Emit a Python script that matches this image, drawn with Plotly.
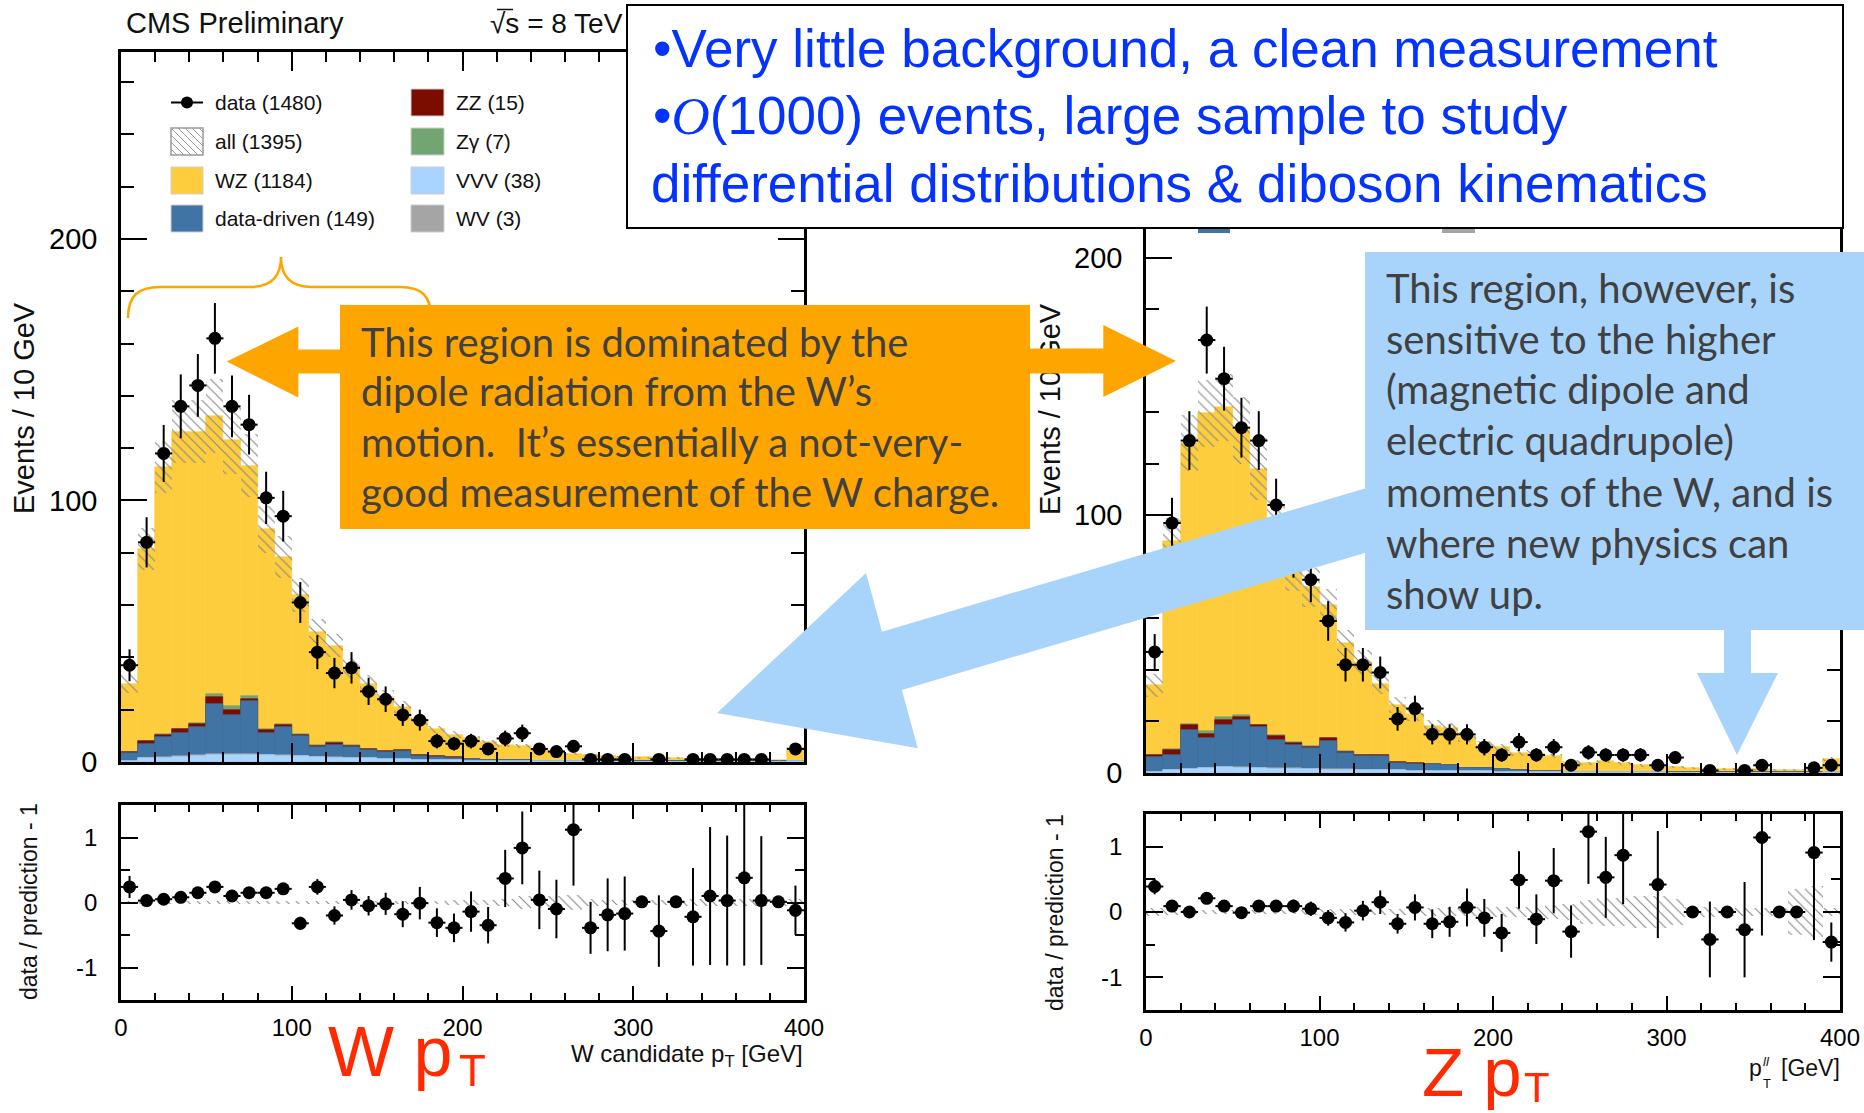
import numpy as np
import plotly.graph_objects as go

W, H = 1864, 1113


def X(p):
    return p / W


def Y(p):
    return 1 - p / H


# 10 GeV bins, 0-400 GeV
centres = np.arange(5, 400, 10)

# ---------------- W candidate pT ----------------
w_data = [37, 84, 118, 136, 144, 162, 136, 129, 101, 94,
          61, 42, 34, 36, 27, 24, 18, 16, 8, 7,
          8, 5, 9, 11, 5, 4, 6, 1, 1, 1,
          None, 1, None, 1, 1, 1, 1, 1, None, 5]
w_data_err = [6.1, 9.6, 10.9, 12.2, 12.0, 13.5, 11.8, 11.4, 10.0, 9.7,
              7.8, 6.5, 5.8, 6.0, 5.2, 4.9, 4.2, 4.0, 2.8, 2.6,
              2.8, 2.2, 3.0, 3.3, 2.2, 2.0, 2.4, 1.0, 1.0, 1.0,
              0, 1.0, 0, 1.0, 1.0, 1.0, 1.0, 1.0, 0, 2.2]
w_pred = [30.0, 81.3, 112.7, 126.3, 126.3, 132.3, 123.1, 113.3, 89.0, 78.3,
          63.9, 49.8, 44.5, 36.0, 30.0, 25.0, 21.0, 16.0, 12.5, 10.5,
          9.0, 7.5, 6.5, 6.0, 4.8, 4.3, 3.0, 2.5, 2.2, 2.0,
          1.8, 1.8, 1.5, 1.2, 1.0, 0.9, 0.8, 0.7, 0.6, 5.2]
w_pred_err = [3.5, 8.0, 10.0, 12.0, 12.0, 14.0, 13.0, 12.0, 9.0, 8.0,
              6.5, 5.0, 4.5, 3.8, 3.2, 2.6, 2.2, 1.7, 1.4, 1.2,
              1.0, 0.9, 0.8, 0.8, 0.6, 0.6, 0.5, 0.4, 0.4, 0.4,
              0.3, 0.3, 0.3, 0.3, 0.3, 0.3, 0.3, 0.3, 0.3, 0.8]
w_vvv = [0.5, 1.4, 1.7, 2.0, 2.2, 2.7, 2.7, 2.7, 2.5, 2.4,
         2.2, 1.9, 1.7, 1.5, 1.4, 1.2, 1.0, 0.9, 0.7, 0.7,
         0.5, 0.4, 0.4, 0.3, 0.2, 0.2, 0.2, 0.2, 0.1, 0.1,
         0.1, 0.1, 0.1, 0.1, 0.1, 0.1, 0.1, 0.1, 0.1, 0.2]
w_wv = [0.0, 0.1, 0.2, 0.2, 0.3, 0.3, 0.3, 0.3, 0.3, 0.2,
        0.2, 0.2, 0.1, 0.1, 0.0, 0.0, 0.0, 0.0, 0.0, 0.0,
        0.0, 0.0, 0.0, 0.0, 0.0, 0.0, 0.0, 0.0, 0.0, 0.0,
        0.0, 0.0, 0.0, 0.0, 0.0, 0.0, 0.0, 0.0, 0.0, 0.0]
w_dd = [2.8, 5.4, 7.5, 9.0, 10.8, 19.2, 15.0, 20.5, 8.2, 10.7,
        7.5, 3.5, 4.6, 4.3, 3.1, 2.8, 3.2, 1.4, 1.3, 1.0,
        0.7, 0.5, 0.3, 0.3, 0.2, 0.1, 0.1, 0.1, 0.1, 0.1,
        0.1, 0.1, 0.1, 0.1, 0.1, 0.1, 0.1, 0.1, 0.1, 0.3]
w_zz = [0.5, 1.0, 1.0, 1.3, 1.3, 2.8, 2.0, 0.6, 1.3, 0.9,
        0.4, 0.6, 0.9, 0.3, 0.3, 0.2, 0.2, 0.4, 0.2, 0.1,
        0.1, 0.0, 0.0, 0.0, 0.0, 0.0, 0.0, 0.0, 0.0, 0.0,
        0.0, 0.0, 0.0, 0.0, 0.0, 0.0, 0.0, 0.0, 0.0, 0.0]
w_zg = [0.0, 0.2, 0.2, 0.2, 0.3, 1.0, 1.5, 1.2, 0.3, 0.3,
        0.5, 0.2, 0.2, 0.2, 0.1, 0.1, 0.0, 0.0, 0.0, 0.0,
        0.0, 0.0, 0.0, 0.0, 0.0, 0.0, 0.0, 0.0, 0.0, 0.0,
        0.0, 0.0, 0.0, 0.0, 0.0, 0.0, 0.0, 0.0, 0.0, 0.0]
w_ratio = [0.24, 0.03, 0.05, 0.08, 0.15, 0.24, 0.10, 0.15, 0.15, 0.21,
           -0.32, 0.24, -0.20, 0.04, -0.05, -0.02, -0.18, -0.01, -0.31, -0.39,
           -0.14, -0.35, 0.37, 0.84, 0.04, -0.10, 1.12, -0.39, -0.19, -0.17,
           0.01, -0.44, 0.01, -0.22, 0.10, 0.03, 0.38, 0.03, 0.01, -0.12]
w_ratio_err = [0.17, 0.08, 0.07, 0.07, 0.07, 0.07, 0.07, 0.08, 0.09, 0.09,
               0.10, 0.12, 0.14, 0.15, 0.15, 0.17, 0.20, 0.25, 0.22, 0.22,
               0.31, 0.28, 0.44, 0.56, 0.45, 0.45, 0.86, 0.40, 0.56, 0.57,
               0.0, 0.55, 0.0, 0.75, 1.06, 1.00, 1.35, 0.99, 0.0, 0.38]
w_ratio_band = [0.03, 0.02, 0.02, 0.02, 0.02, 0.02, 0.02, 0.02, 0.02, 0.02,
                0.02, 0.02, 0.03, 0.03, 0.03, 0.03, 0.03, 0.03, 0.03, 0.04,
                0.04, 0.04, 0.06, 0.10, 0.08, 0.10, 0.12, 0.06, 0.04, 0.04,
                0.04, 0.04, 0.04, 0.05, 0.05, 0.05, 0.05, 0.05, 0.05, 0.05]

# ---------------- Z (dilepton) pT ----------------
z_data = [47, 97, 129, 168, 153, 134, 129, 104, 85, 75,
          59, 42, 42, 39, 21, 25, 15, 15, 15, 10,
          7, 12, 7, 10, 3, 8, 7, 7, 7, 3,
          6, None, 1, None, 1, 3, None, None, 2, 3]
z_data_err = [6.9, 9.8, 11.4, 13.0, 12.4, 11.6, 11.4, 10.2, 9.2, 8.7,
              7.7, 6.5, 6.5, 6.2, 4.6, 5.0, 3.9, 3.9, 3.9, 3.2,
              2.6, 3.5, 2.6, 3.2, 1.7, 2.8, 2.6, 2.6, 2.6, 1.7,
              2.4, 0, 1.0, 0, 1.0, 1.7, 0, 0, 1.4, 1.7]
z_pred = [34.0, 90.0, 128.0, 139.6, 142.0, 133.0, 118.0, 96.0, 79.0, 72.0,
          65.0, 50.3, 43.2, 34.4, 26.4, 23.0, 18.3, 17.3, 14.0, 11.0,
          10.0, 7.8, 7.5, 6.6, 4.3, 3.8, 4.5, 3.7, 3.0, 2.2,
          2.2, 2.0, 1.7, 1.6, 1.4, 1.4, 1.2, 1.1, 1.0, 5.6]
z_pred_err = [4.5, 9.0, 11.0, 13.0, 13.0, 13.0, 12.0, 10.0, 8.5, 7.5,
              6.5, 5.2, 4.6, 3.8, 3.2, 2.8, 2.3, 2.1, 1.8, 1.5,
              1.3, 1.1, 1.0, 0.9, 0.7, 0.6, 0.6, 0.5, 0.5, 0.4,
              0.4, 0.4, 0.4, 0.3, 0.3, 0.3, 0.3, 0.3, 0.3, 0.8]
z_vvv = [0.5, 1.0, 1.5, 1.8, 2.2, 2.0, 1.8, 1.6, 1.5, 1.4,
         1.3, 1.2, 1.1, 1.0, 1.0, 0.9, 0.9, 0.8, 0.7, 0.6,
         0.5, 0.4, 0.4, 0.3, 0.3, 0.2, 0.2, 0.2, 0.2, 0.2,
         0.1, 0.1, 0.1, 0.1, 0.1, 0.1, 0.1, 0.1, 0.1, 0.3]
z_wv = [0.0, 0.1, 0.2, 0.2, 0.3, 0.3, 0.3, 0.3, 0.3, 0.2,
        0.2, 0.2, 0.1, 0.1, 0.0, 0.0, 0.0, 0.0, 0.0, 0.0,
        0.0, 0.0, 0.0, 0.0, 0.0, 0.0, 0.0, 0.0, 0.0, 0.0,
        0.0, 0.0, 0.0, 0.0, 0.0, 0.0, 0.0, 0.0, 0.0, 0.0]
z_dd = [5.6, 6.0, 14.8, 11.6, 16.1, 18.1, 15.8, 11.1, 9.2, 8.1,
        11.1, 6.4, 5.3, 5.4, 3.0, 2.6, 2.6, 2.2, 1.3, 1.4,
        1.0, 0.6, 0.4, 0.3, 0.1, 0.1, 0.1, 0.1, 0.1, 0.1,
        0.1, 0.1, 0.1, 0.1, 0.1, 0.1, 0.1, 0.1, 0.1, 0.2]
z_zz = [0.7, 2.0, 2.3, 1.6, 1.8, 1.4, 0.6, 1.3, 0.6, 0.5,
        0.8, 0.4, 0.3, 0.3, 0.2, 0.5, 0.1, 0.1, 0.1, 0.1,
        0.0, 0.0, 0.0, 0.0, 0.0, 0.0, 0.0, 0.0, 0.0, 0.0,
        0.0, 0.0, 0.0, 0.0, 0.0, 0.0, 0.0, 0.0, 0.0, 0.0]
z_zg = [0.0, 0.2, 0.3, 1.0, 1.3, 0.6, 0.2, 0.3, 0.4, 0.3,
        0.3, 0.2, 0.1, 0.1, 0.0, 0.0, 0.0, 0.0, 0.0, 0.0,
        0.0, 0.0, 0.0, 0.0, 0.0, 0.0, 0.0, 0.0, 0.0, 0.0,
        0.0, 0.0, 0.0, 0.0, 0.0, 0.0, 0.0, 0.0, 0.0, 0.0]
z_ratio = [0.39, 0.09, 0.00, 0.21, 0.09, -0.01, 0.09, 0.09, 0.09, 0.05,
           -0.09, -0.16, 0.02, 0.15, -0.18, 0.07, -0.18, -0.15, 0.07, -0.09,
           -0.32, 0.49, -0.11, 0.48, -0.30, 1.23, 0.53, 0.87, None, 0.42,
           None, 0.00, -0.42, 0.00, -0.27, 1.14, 0.00, 0.00, 0.91, -0.46]
z_ratio_err = [0.12, 0.08, 0.08, 0.08, 0.08, 0.08, 0.08, 0.09, 0.10, 0.11,
               0.12, 0.14, 0.15, 0.18, 0.15, 0.20, 0.22, 0.23, 0.29, 0.29,
               0.29, 0.44, 0.38, 0.50, 0.40, 0.80, 0.62, 0.75, 0.0, 0.82,
               0.0, 0.0, 0.58, 0.0, 0.73, 1.50, 0.0, 0.0, 1.34, 0.30]
z_ratio_band = [0.06, 0.04, 0.03, 0.03, 0.03, 0.03, 0.03, 0.03, 0.03, 0.04,
                0.04, 0.04, 0.05, 0.05, 0.05, 0.05, 0.06, 0.06, 0.06, 0.07,
                0.07, 0.08, 0.08, 0.10, 0.12, 0.18, 0.22, 0.22, 0.24, 0.24,
                0.20, 0.08, 0.08, 0.06, 0.06, 0.06, 0.06, 0.35, 0.40, 0.06]

legend_entries = [("data (1480)", None), ("all (1395)", "hatch"),
                  ("WZ (1184)", "#FDCD3D"), ("data-driven (149)", "#3F74A5"),
                  ("ZZ (15)", "#7A0C00"), ("Z\u03b3 (7)", "#73A573"),
                  ("VVV (38)", "#A8D4FF"), ("WV (3)", "#A5A5A5")]

COL_WZ, COL_DD, COL_ZZ, COL_ZG, COL_VVV, COL_WV = ("#FDCD3D", "#3F74A5", "#7A0C00",
                                                   "#73A573", "#A8D4FF", "#A5A5A5")
COL_HATCH = "#8A8A8A"
ORANGE = "#FFA500"
SKY = "#A8D4FB"
SLIDE_GREY = "#404040"
RED = "#FF2A00"
BLUE_TXT = "#0433FF"
ROOT_FONT = "Liberation Sans"
BODY_FONT = "Lato"

fig = go.Figure()


def add_stack(xa, ya, pred, err, vvv, wv, dd, zz, zg, data, data_err):
    c1 = np.asarray(vvv)
    c2 = c1 + np.asarray(wv)
    c3 = c2 + np.asarray(dd)
    c4 = c3 + np.asarray(zz)
    c5 = c4 + np.asarray(zg)
    for h, c in [(pred, COL_WZ), (c5, COL_ZG), (c4, COL_ZZ), (c3, COL_DD),
                 (c2, COL_WV), (c1, COL_VVV)]:
        fig.add_trace(go.Bar(x=centres, y=h, width=10,
                             marker=dict(color=c, line=dict(width=0.6, color=c)),
                             xaxis=xa, yaxis=ya, showlegend=False, hoverinfo="skip"))
    pred = np.asarray(pred)
    err = np.asarray(err)
    fig.add_trace(go.Bar(x=centres, y=2 * err, base=pred - err, width=10,
                         marker=dict(color=COL_HATCH, line=dict(width=0),
                                     pattern=dict(shape="\\", size=7, solidity=0.16,
                                                  fillmode="replace")),
                         xaxis=xa, yaxis=ya, showlegend=False, hoverinfo="skip"))
    fig.add_trace(go.Scatter(x=centres, y=data, mode="markers",
                             marker=dict(color="black", size=13),
                             error_y=dict(type="data", array=data_err, color="black",
                                          thickness=2, width=0),
                             error_x=dict(type="constant", value=5, color="black",
                                          thickness=2, width=0),
                             xaxis=xa, yaxis=ya, showlegend=False, hoverinfo="skip"))


def add_ratio(xa, ya, ratio, rerr, band):
    band = np.asarray(band)
    fig.add_trace(go.Bar(x=centres, y=2 * band, base=-band, width=10,
                         marker=dict(color=COL_HATCH, line=dict(width=0),
                                     pattern=dict(shape="\\", size=7, solidity=0.16,
                                                  fillmode="replace")),
                         xaxis=xa, yaxis=ya, showlegend=False, hoverinfo="skip"))
    fig.add_trace(go.Scatter(x=centres, y=ratio, mode="markers",
                             marker=dict(color="black", size=13),
                             error_y=dict(type="data", array=rerr, color="black",
                                          thickness=2, width=0),
                             error_x=dict(type="constant", value=5, color="black",
                                          thickness=2, width=0),
                             xaxis=xa, yaxis=ya, showlegend=False, hoverinfo="skip"))


add_stack("x", "y", w_pred, w_pred_err, w_vvv, w_wv, w_dd, w_zz, w_zg, w_data, w_data_err)
add_ratio("x2", "y2", w_ratio, w_ratio_err, w_ratio_band)
add_stack("x3", "y3", z_pred, z_pred_err, z_vvv, z_wv, z_dd, z_zz, z_zg, z_data, z_data_err)
add_ratio("x4", "y4", z_ratio, z_ratio_err, z_ratio_band)


def frame_axis(**kw):
    base = dict(showline=True, linecolor="black", linewidth=2.5, mirror="ticks",
                ticks="inside", tickcolor="black", tickwidth=2, showgrid=False,
                zeroline=False, fixedrange=True, automargin=False)
    base.update(kw)
    return base


x_major = [0, 100, 200, 300, 400]
x_minor = [v for v in range(20, 400, 20) if v % 100]
main_y_minor = [v for v in range(20, 280, 20) if v % 100]


def main_axes(xdom, ydom, ytop, xname, yname, xanchor, yanchor):
    return {
        xname: frame_axis(domain=[X(xdom[0]), X(xdom[1])], range=[0, 400], anchor=yanchor,
                          tickvals=x_major, ticklen=19, showticklabels=False,
                          minor=dict(ticks="inside", ticklen=10, tickwidth=1.5,
                                     tickcolor="black", tickvals=x_minor)),
        yname: frame_axis(domain=[Y(ydom[1]), Y(ydom[0])], range=[0, ytop], anchor=xanchor,
                          tickvals=[0, 100, 200], ticklen=26,
                          tickfont=dict(family=ROOT_FONT, size=29, color="black"),
                          ticklabelstandoff=15,
                          minor=dict(ticks="inside", ticklen=13, tickwidth=1.5,
                                     tickcolor="black", tickvals=main_y_minor)),
    }


def ratio_axes(xdom, ydom, xname, yname, xanchor, yanchor):
    return {
        xname: frame_axis(domain=[X(xdom[0]), X(xdom[1])], range=[0, 400], anchor=yanchor,
                          tickvals=x_major, ticktext=[str(v) for v in x_major], ticklen=14,
                          tickfont=dict(family=ROOT_FONT, size=24, color="black"),
                          ticklabelstandoff=4,
                          minor=dict(ticks="inside", ticklen=7, tickwidth=1.5,
                                     tickcolor="black", tickvals=x_minor)),
        yname: frame_axis(domain=[Y(ydom[1]), Y(ydom[0])], range=[-1.5, 1.5], anchor=xanchor,
                          tickvals=[-1, 0, 1], ticktext=["-1", "0", "1"], ticklen=17,
                          tickfont=dict(family=ROOT_FONT, size=24, color="black"),
                          ticklabelstandoff=16,
                          minor=dict(ticks="inside", ticklen=9, tickwidth=1.5,
                                     tickcolor="black", tickvals=[-1.5, -0.5, 0.5, 1.5])),
    }


layout_axes = {}
layout_axes.update(main_axes((121, 804), (52, 762), 271.5, "xaxis", "yaxis", "x", "y"))
layout_axes.update(ratio_axes((121, 804), (805, 1000), "xaxis2", "yaxis2", "x2", "y2"))
layout_axes.update(main_axes((1146, 1840), (62, 773), 275.9, "xaxis3", "yaxis3", "x3", "y3"))
layout_axes.update(ratio_axes((1146, 1840), (814, 1010), "xaxis4", "yaxis4", "x4", "y4"))

# ---------------- decorations (pixel geometry converted to paper) ----------------
shapes = []
annotations = []


def rect(x0, y0, x1, y1, fill, line_color=None, lw=0):
    shapes.append(dict(type="rect", xref="paper", yref="paper", layer="above",
                       x0=X(x0), x1=X(x1), y0=Y(y1), y1=Y(y0), fillcolor=fill,
                       line=dict(width=lw, color=line_color or fill)))


def line(x0, y0, x1, y1, color, lw):
    shapes.append(dict(type="line", xref="paper", yref="paper", layer="above",
                       x0=X(x0), x1=X(x1), y0=Y(y0), y1=Y(y1),
                       line=dict(width=lw, color=color)))


def poly(pts, fill):
    d = "M " + " L ".join(f"{X(a):.6f},{Y(b):.6f}" for a, b in pts) + " Z"
    shapes.append(dict(type="path", xref="paper", yref="paper", layer="above", path=d,
                       fillcolor=fill, line=dict(width=0)))


def text(t, x, y, size, color="black", family=ROOT_FONT, xanchor="left",
         yanchor="middle", angle=0, **kw):
    annotations.append(dict(text=t, x=X(x), y=Y(y), xref="paper", yref="paper",
                            showarrow=False, xanchor=xanchor, yanchor=yanchor,
                            textangle=angle, borderpad=0,
                            font=dict(family=family, size=size, color=color), **kw))


# legend of the W plot
rows = [102.5, 141.5, 180.5, 218.5]
cols = [(171, 203, 214), (411, 444, 455)]
for i, (label, style) in enumerate(legend_entries):
    px0, px1, tx = cols[i // 4]
    yc = rows[i % 4]
    if style is None:
        line(px0, yc, px1, yc, "black", 2)
        shapes.append(dict(type="circle", xref="paper", yref="paper", layer="above",
                           x0=X(px0 + 10), x1=X(px1 - 10), y0=Y(yc + 6), y1=Y(yc - 6),
                           fillcolor="black", line=dict(width=0)))
    elif style == "hatch":
        rect(px0, yc - 13.5, px1, yc + 13.5, "white", "#9a9a9a", 1.5)
        for k in range(-3, 5):
            a0, a1 = px0 + 7 * k, px0 + 7 * k + 27
            xa0, ya0 = max(a0, px0), yc - 13.5 + (max(a0, px0) - a0)
            xa1, ya1 = min(a1, px1), yc - 13.5 + (min(a1, px1) - a0)
            if xa1 > xa0:
                line(xa0, ya0, xa1, ya1, "#9a9a9a", 1)
    else:
        rect(px0, yc - 13.5, px1, yc + 13.5, style, "#cfcfcf", 1)
    text(label, tx, yc, 21, "#111111")

# legend swatches of the Z plot peeking below the text box
rect(1198, 226, 1230, 233, COL_DD)
rect(1442, 226, 1475, 233, COL_WV)

# brace over the low-pT region
shapes.append(dict(type="path", xref="paper", yref="paper", layer="above",
                   line=dict(color=ORANGE, width=2.5),
                   path=(f"M {X(128)},{Y(318)} C {X(128)},{Y(296)} {X(138)},{Y(287)} {X(160)},{Y(287)} "
                         f"L {X(250)},{Y(287)} C {X(272)},{Y(287)} {X(281)},{Y(276)} {X(281)},{Y(257)} "
                         f"C {X(281)},{Y(276)} {X(290)},{Y(287)} {X(312)},{Y(287)} "
                         f"L {X(400)},{Y(287)} C {X(422)},{Y(287)} {X(431)},{Y(296)} {X(431)},{Y(318)}")))

# light-blue arrows from the high-pT note
poly([(717, 713), (866, 573), (882, 631.7), (1385, 482.5), (1385, 547), (901.8, 690),
      (917.8, 748.3)], SKY)
rect(1365, 252, 1864, 630, SKY)
poly([(1724, 620), (1751, 620), (1751, 673), (1778, 673), (1737, 755), (1697, 673),
      (1724, 673)], SKY)

# orange double arrow and note
poly([(226.7, 361.5), (298.3, 326.5), (298.3, 349.5), (345, 349.5), (345, 373.5),
      (298.3, 373.5), (298.3, 397.5)], ORANGE)
poly([(1025, 349), (1103.3, 349), (1103.3, 325), (1176, 361), (1103.3, 397),
      (1103.3, 373), (1025, 373)], ORANGE)
rect(340, 305, 1030, 529, ORANGE)

# summary box on top
rect(627, 5, 1843, 228, "white", "black", 2)
# overline of the square root
line(497, 9.5, 513, 9.5, "#111111", 1.5)

# ---------------- texts ----------------
text("CMS Preliminary", 125, 23.5, 29, "#111111")
text("\u221as = 8 TeV", 624, 23.5, 28, "#111111", xanchor="right")

text("Events / 10 GeV", 24, 408, 29, "#111111", xanchor="center", angle=-90)
text("Events / 10 GeV", 1050, 409, 29, "#111111", xanchor="center", angle=-90)
# the orange shaft passes over the right-hand axis title
annotations.append(dict(text=" ", x=X(1066), y=Y(361), xref="paper", yref="paper",
                        showarrow=False, xanchor="center", yanchor="middle",
                        width=74, height=24, bgcolor=ORANGE, borderpad=0,
                        font=dict(size=10)))

text("data / prediction - 1", 29, 902, 23, "#111111", xanchor="center", angle=-90)
text("data / prediction - 1", 1055, 913, 23, "#111111", xanchor="center", angle=-90)
text("W candidate p<sub>T</sub> [GeV]", 804, 1055, 24, "#111111", xanchor="right")
text("p", 1748, 1068, 23, "#111111")
text("<i>ll</i>", 1762, 1061, 13, "#111111")
text("T", 1762, 1083, 13, "#111111")
text("[GeV]", 1841, 1068, 23, "#111111", xanchor="right")

text("W p", 327, 1052, 70, RED)
text("T", 458, 1070, 44, RED)
text("Z p", 1421, 1072, 69, RED)
text("T", 1523, 1087, 42, RED)

top_lines = ["\u2022Very little background, a clean measurement",
             "\u2022<span style='font-family:Liberation Serif'><i>O</i></span>(1000) events, "
             "large sample to study",
             "differential distributions &amp; diboson kinematics"]
for t, xb, yb in zip(top_lines, [652, 652, 650], [67, 134, 202]):
    text(t, xb, yb - 18.3, 53, BLUE_TXT)

orange_lines = ["This region is dominated by the",
                "dipole radiation from the W\u2019s",
                "motion.&nbsp; It\u2019s essentially a not-very-",
                "good measurement of the W charge."]
for k, t in enumerate(orange_lines):
    text(t, 360, 357 + 50 * k - 15.5, 40, SLIDE_GREY, family=BODY_FONT)

blue_lines = ["This region, however, is", "sensitive to the higher",
              "(magnetic dipole and", "electric quadrupole)",
              "moments of the W, and is", "where new physics can", "show up."]
for k, t in enumerate(blue_lines):
    text(t, 1385, 303 + 51 * k - 15.5, 40, SLIDE_GREY, family=BODY_FONT)

fig.update_layout(width=W, height=H, autosize=False,
                  margin=dict(l=0, r=0, t=0, b=0, pad=0, autoexpand=False),
                  paper_bgcolor="white", plot_bgcolor="rgba(0,0,0,0)",
                  barmode="overlay", bargap=0, showlegend=False,
                  shapes=shapes, annotations=annotations, **layout_axes)

fig.write_html("out.html")
